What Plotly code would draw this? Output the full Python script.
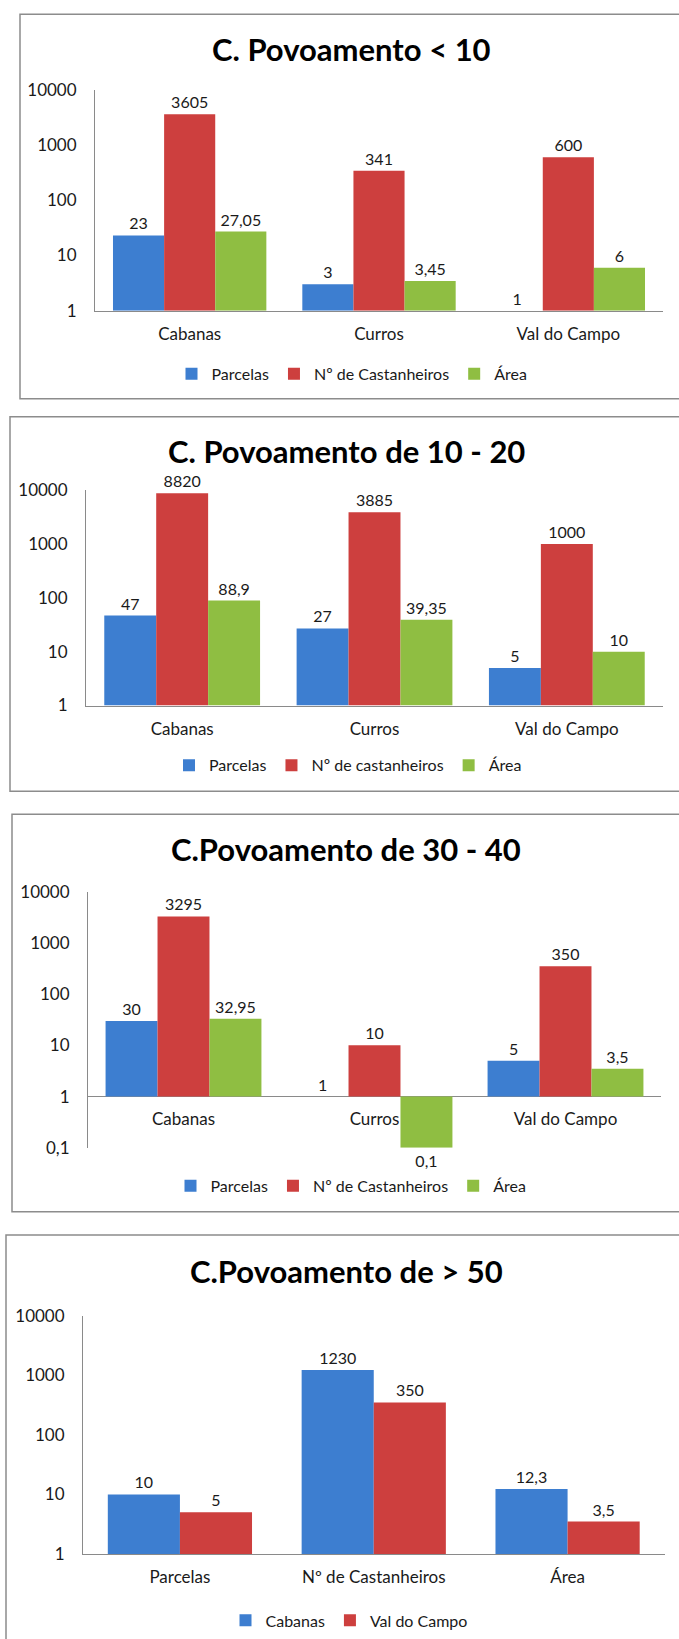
import plotly.graph_objects as go

W, H = 679, 1639
FONT = "Lato"

# ---------------- data ----------------
p1_title = "C. Povoamento < 10"
p1_categories = ["Cabanas", "Curros", "Val do Campo"]
p1_series = ["Parcelas", "Nº de Castanheiros", "Área"]
p1_parcelas = [23, 3, 1]
p1_castanheiros = [3605, 341, 600]
p1_area = [27.05, 3.45, 6]

p2_title = "C. Povoamento de 10 - 20"
p2_categories = ["Cabanas", "Curros", "Val do Campo"]
p2_series = ["Parcelas", "Nº de castanheiros", "Área"]
p2_parcelas = [47, 27, 5]
p2_castanheiros = [8820, 3885, 1000]
p2_area = [88.9, 39.35, 10]

p3_title = "C.Povoamento de 30 - 40"
p3_categories = ["Cabanas", "Curros", "Val do Campo"]
p3_series = ["Parcelas", "Nº de Castanheiros", "Área"]
p3_parcelas = [30, 1, 5]
p3_castanheiros = [3295, 10, 350]
p3_area = [32.95, 0.1, 3.5]

p4_title = "C.Povoamento de > 50"
p4_categories = ["Parcelas", "Nº de Castanheiros", "Área"]
p4_series = ["Cabanas", "Val do Campo"]
p4_cabanas = [10, 1230, 12.3]
p4_valdocampo = [5, 350, 3.5]

y_tickvals = [1, 10, 100, 1000, 10000]
y_ticktext = ["1", "10", "100", "1000", "10000"]
p3_tickvals = [0.1, 1, 10, 100, 1000, 10000]
p3_ticktext = ["0,1", "1", "10", "100", "1000", "10000"]

BLUE, RED, GREEN = "#3D7ED0", "#CD3F3E", "#8FBE42"

# vertical calibration of the rendered page (measured)
V_OFF, V_SC = 9.7, 0.9859


def fmt(v):
    return ("%g" % v).replace(".", ",")


def px_x(x):
    return x / W


def px_y(y):
    return 1 - ((y - V_OFF) / V_SC) / H


panels = [
    dict(title=p1_title, cats=p1_categories, names=p1_series,
         vals=[p1_parcelas, p1_castanheiros, p1_area],
         colors=[BLUE, RED, GREEN],
         xdom=(95, 663), ydom=(88.3, 309), yrange=(0, 4),
         tv=y_tickvals, tt=y_ticktext, xpos=None, width=0.27,
         title_xy=(351, 48), legend_xy=(352, 372), box=(20, 13, 700, 397)),
    dict(title=p2_title, cats=p2_categories, names=p2_series,
         vals=[p2_parcelas, p2_castanheiros, p2_area],
         colors=[BLUE, RED, GREEN],
         xdom=(86, 663), ydom=(488.3, 703.3), yrange=(0, 4),
         tv=y_tickvals, tt=y_ticktext, xpos=None, width=0.27,
         title_xy=(346, 449), legend_xy=(348, 763), box=(10, 415, 700, 789)),
    dict(title=p3_title, cats=p3_categories, names=p3_series,
         vals=[p3_parcelas, p3_castanheiros, p3_area],
         colors=[BLUE, RED, GREEN],
         xdom=(88, 661), ydom=(889.3, 1145), yrange=(-1, 4),
         tv=p3_tickvals, tt=p3_ticktext, xpos=1093.3, width=0.272,
         title_xy=(346, 847), legend_xy=(351, 1183), box=(12, 812, 700, 1209)),
    dict(title=p4_title, cats=p4_categories, names=p4_series,
         vals=[p4_cabanas, p4_valdocampo],
         colors=[BLUE, RED],
         xdom=(83, 664.5), ydom=(1312.7, 1550.7), yrange=(0, 4),
         tv=y_tickvals, tt=y_ticktext, xpos=None, width=0.372,
         title_xy=(346, 1268), legend_xy=(349, 1617), box=(6, 1232, 700, 1700)),
]

fig = go.Figure()
layout = dict(
    width=W, height=H, margin=dict(l=0, r=0, t=0, b=0),
    paper_bgcolor="white", plot_bgcolor="rgba(0,0,0,0)",
    font=dict(family=FONT, size=16, color="#1a1a1a"),
    barmode="overlay", showlegend=True,
    shapes=[], annotations=[],
)

for i, p in enumerate(panels, start=1):
    xa = "x" if i == 1 else f"x{i}"
    ya = "y" if i == 1 else f"y{i}"
    lg = "legend" if i == 1 else f"legend{i}"
    n = len(p["vals"])
    w = p["width"]
    for k, (name, vals, col) in enumerate(zip(p["names"], p["vals"], p["colors"])):
        off = (k - n / 2) * w
        fig.add_trace(go.Bar(
            x=p["cats"], y=[v - 1 for v in vals], base=1,
            customdata=vals, hovertemplate="%{x}: %{customdata}<extra>" + name + "</extra>",
            name=name, xaxis=xa, yaxis=ya, legend=lg,
            width=w, offset=off,
            marker=dict(color=col, line=dict(width=0)),
            text=[fmt(v) for v in vals], textposition="outside",
            constraintext="none", cliponaxis=False,
            textfont=dict(family=FONT, size=16, color="#1a1a1a"),
        ))

    xkey = "xaxis" if i == 1 else f"xaxis{i}"
    ykey = "yaxis" if i == 1 else f"yaxis{i}"
    xd = dict(
        domain=[px_x(p["xdom"][0]), px_x(p["xdom"][1])],
        type="category", categoryorder="array", categoryarray=p["cats"],
        showline=True, linecolor="#8a8a8a", linewidth=1,
        ticks="", showgrid=False, zeroline=False, fixedrange=True,
        tickfont=dict(family=FONT, size=17, color="#1a1a1a"),
        ticklabelstandoff=8,
    )
    if p["xpos"] is None:
        xd["anchor"] = ya
    else:
        xd["anchor"] = "free"
        xd["position"] = px_y(p["xpos"])
        xd["layer"] = "below traces"
    layout[xkey] = xd
    layout[ykey] = dict(
        domain=[px_y(p["ydom"][1]), px_y(p["ydom"][0])],
        type="log", range=list(p["yrange"]), anchor=xa,
        showline=True, linecolor="#8a8a8a", linewidth=1,
        ticks="", showgrid=False, zeroline=False, fixedrange=True,
        tickvals=p["tv"], ticktext=p["tt"],
        tickfont=dict(family=FONT, size=17, color="#1a1a1a"),
        ticklabelstandoff=14,
    )
    layout[lg] = dict(
        orientation="h", x=px_x(p["legend_xy"][0]), y=px_y(p["legend_xy"][1]),
        xanchor="center", yanchor="middle", bgcolor="rgba(0,0,0,0)",
        font=dict(family=FONT, size=16, color="#1a1a1a"),
        itemclick=False, itemdoubleclick=False,
    )
    layout["annotations"].append(dict(
        text=p["title"], xref="paper", yref="paper",
        x=px_x(p["title_xy"][0]), y=px_y(p["title_xy"][1]),
        xanchor="center", yanchor="middle", showarrow=False,
        font=dict(family=FONT, size=31, color="#000000", weight="bold"),
    ))
    bx0, by0, bx1, by1 = p["box"]
    layout["shapes"].append(dict(
        type="rect", xref="paper", yref="paper", layer="below",
        x0=px_x(bx0), x1=px_x(bx1), y0=px_y(by1), y1=px_y(by0),
        line=dict(color="#8c8c8c", width=1.5), fillcolor="rgba(0,0,0,0)",
    ))

fig.update_layout(**layout)
fig.write_html(
    "out.html",
    config={"displayModeBar": False},
    post_script=(
        "document.body.style.margin='0';document.body.style.padding='0';"
        "var d=document.querySelector('.plotly-graph-div');"
        "d.style.position='fixed';d.style.top='0';d.style.left='0';"
    ),
)
